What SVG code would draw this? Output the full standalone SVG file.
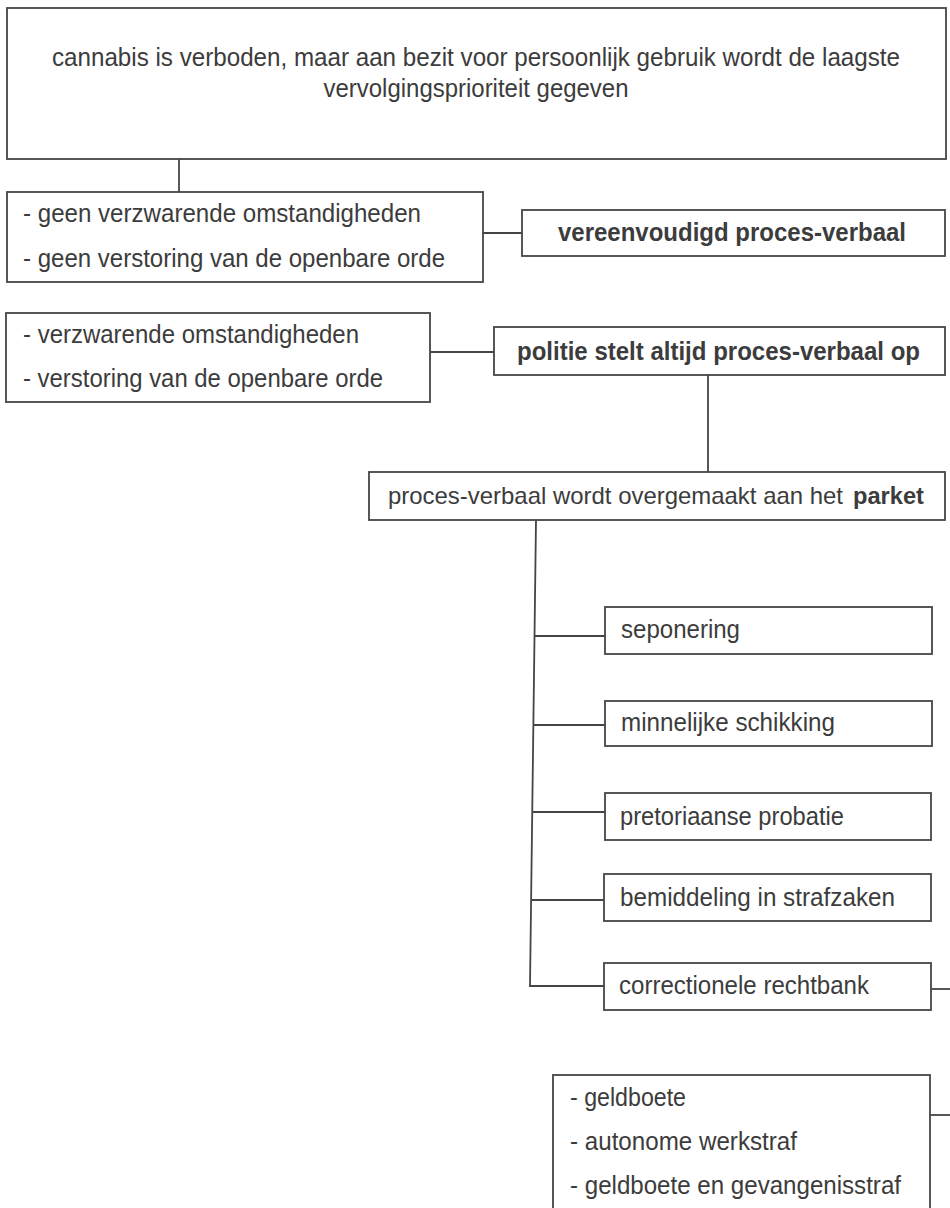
<svg xmlns="http://www.w3.org/2000/svg" width="950" height="1208" viewBox="0 0 950 1208">
<style>
  .box { fill: #ffffff; stroke: #454545; stroke-width: 1.8; }
  .ln { fill: none; stroke: #454545; stroke-width: 1.8; }
  .t { font-family: "Liberation Sans", Arial, Helvetica, sans-serif; font-size: 25.5px; fill: #3c3c3c; }
  .s24 { font-size: 24px; }
  .b { font-weight: bold; }
</style>
<rect width="950" height="1208" fill="#ffffff"/>
<g id="connectors">
  <line class="ln" x1="179" y1="159" x2="179" y2="192"/>
  <line class="ln" x1="483" y1="233" x2="522" y2="233"/>
  <line class="ln" x1="430" y1="352" x2="494" y2="352"/>
  <line class="ln" x1="708" y1="375" x2="708" y2="472"/>
  <polyline class="ln" points="536,520 530,986 604,986"/>
  <line class="ln" x1="534.5" y1="636" x2="605" y2="636"/>
  <line class="ln" x1="533.4" y1="725" x2="605" y2="725"/>
  <line class="ln" x1="532.2" y1="812" x2="605" y2="812"/>
  <line class="ln" x1="531.1" y1="900" x2="604" y2="900"/>
  <line class="ln" x1="931" y1="989" x2="950" y2="989"/>
  <line class="ln" x1="930" y1="1115" x2="950" y2="1115"/>
</g>
<g id="n-top">
  <rect class="box" x="7" y="8" width="939" height="151"/>
  <text class="t" x="476" y="66" text-anchor="middle" textLength="848" lengthAdjust="spacingAndGlyphs">cannabis is verboden, maar aan bezit voor persoonlijk gebruik wordt de laagste</text>
  <text class="t" x="476" y="97" text-anchor="middle" textLength="305" lengthAdjust="spacingAndGlyphs">vervolgingsprioriteit gegeven</text>
</g>
<g id="n-geen">
  <rect class="box" x="7" y="192" width="476" height="90"/>
  <text class="t" x="23" y="222" textLength="398" lengthAdjust="spacingAndGlyphs">- geen verzwarende omstandigheden</text>
  <text class="t" x="23" y="267" textLength="422" lengthAdjust="spacingAndGlyphs">- geen verstoring van de openbare orde</text>
</g>
<g id="n-vereenvoudigd">
  <rect class="box" x="522" y="210" width="423" height="46"/>
  <text class="t b" x="558" y="241" textLength="348" lengthAdjust="spacingAndGlyphs">vereenvoudigd proces-verbaal</text>
</g>
<g id="n-verzwarend">
  <rect class="box" x="6" y="313" width="424" height="89"/>
  <text class="t" x="23" y="343" textLength="336" lengthAdjust="spacingAndGlyphs">- verzwarende omstandigheden</text>
  <text class="t" x="23" y="387" textLength="360" lengthAdjust="spacingAndGlyphs">- verstoring van de openbare orde</text>
</g>
<g id="n-politie">
  <rect class="box" x="494" y="327" width="451" height="48"/>
  <text class="t b" x="517" y="360" textLength="403" lengthAdjust="spacingAndGlyphs">politie stelt altijd proces-verbaal op</text>
</g>
<g id="n-parket">
  <rect class="box" x="369" y="472" width="576" height="48"/>
  <text class="t s24" x="388" y="504" textLength="455" lengthAdjust="spacingAndGlyphs">proces-verbaal wordt overgemaakt aan het</text>
  <text class="t s24 b" x="853" y="504" textLength="71" lengthAdjust="spacingAndGlyphs">parket</text>
</g>
<g id="n-seponering">
  <rect class="box" x="605" y="607" width="327" height="47"/>
  <text class="t" x="621" y="638" textLength="119" lengthAdjust="spacingAndGlyphs">seponering</text>
</g>
<g id="n-minnelijke">
  <rect class="box" x="605" y="701" width="327" height="45"/>
  <text class="t" x="621" y="731" textLength="214" lengthAdjust="spacingAndGlyphs">minnelijke schikking</text>
</g>
<g id="n-pretoriaanse">
  <rect class="box" x="605" y="793" width="326" height="47"/>
  <text class="t" x="620" y="825" textLength="224" lengthAdjust="spacingAndGlyphs">pretoriaanse probatie</text>
</g>
<g id="n-bemiddeling">
  <rect class="box" x="604" y="874" width="327" height="47"/>
  <text class="t" x="620" y="906" textLength="275" lengthAdjust="spacingAndGlyphs">bemiddeling in strafzaken</text>
</g>
<g id="n-correctionele">
  <rect class="box" x="604" y="963" width="327" height="47"/>
  <text class="t" x="619" y="994" textLength="250" lengthAdjust="spacingAndGlyphs">correctionele rechtbank</text>
</g>
<g id="n-straffen">
  <rect class="box" x="553" y="1075" width="377" height="150"/>
  <text class="t" x="570" y="1106" textLength="116" lengthAdjust="spacingAndGlyphs">- geldboete</text>
  <text class="t" x="570" y="1150" textLength="227" lengthAdjust="spacingAndGlyphs">- autonome werkstraf</text>
  <text class="t" x="570" y="1194" textLength="331" lengthAdjust="spacingAndGlyphs">- geldboete en gevangenisstraf</text>
</g>
</svg>
